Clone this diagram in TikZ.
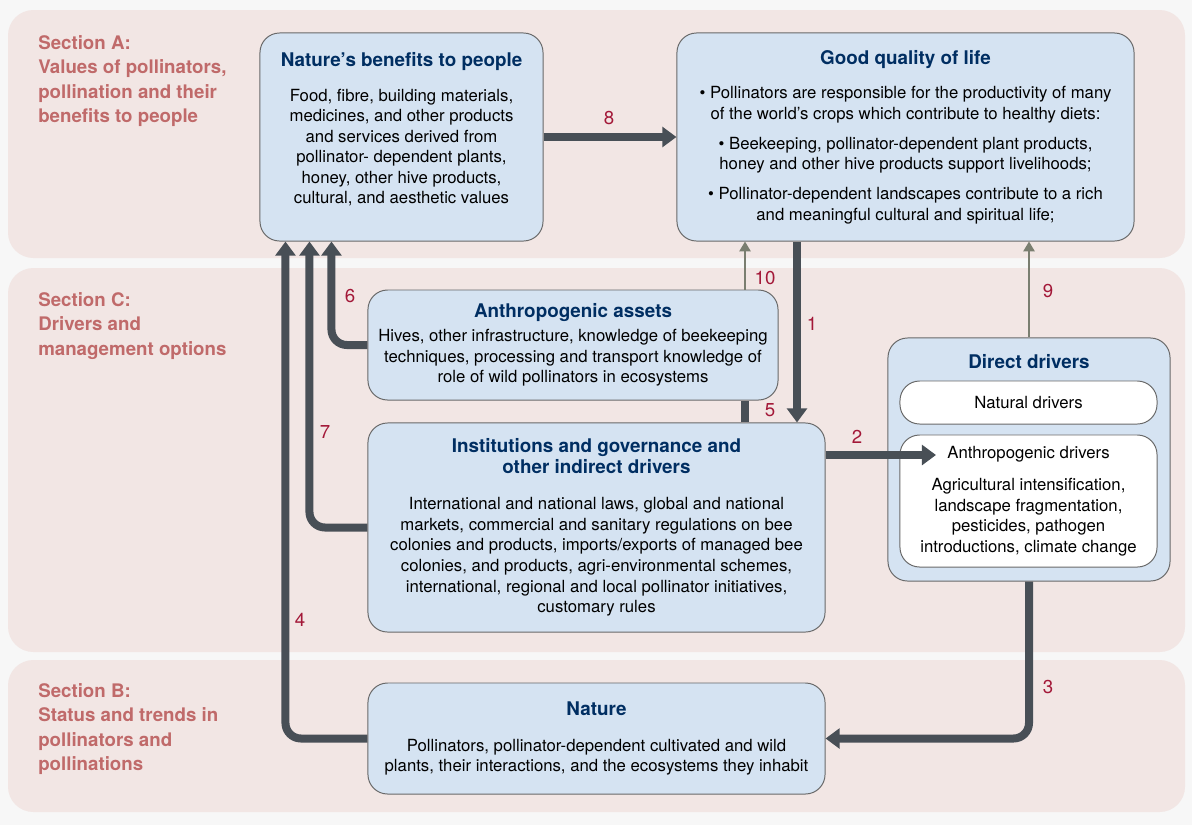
\documentclass[tikz,border=0pt]{standalone}
\usepackage{fontspec}
\setmainfont{TeX Gyre Heros}
\usetikzlibrary{arrows.meta, positioning, calc}
\definecolor{pagegrey}{RGB}{247,247,247}
\definecolor{sectionpink}{RGB}{242,230,228}
\definecolor{sectionred}{RGB}{192,106,106}
\definecolor{boxblue}{RGB}{213,227,242}
\definecolor{boxline}{RGB}{105,105,105}
\definecolor{titlenavy}{RGB}{0,46,98}
\definecolor{pipegrey}{RGB}{72,79,86}
\definecolor{thingrey}{RGB}{122,126,112}
\definecolor{numred}{RGB}{163,24,56}
\newcommand{\boxtitle}[1]{{\bfseries\fontsize{13.4}{15}\selectfont\color{titlenavy}#1}}

\begin{document}
\begin{tikzpicture}[x=0.025cm, y=-0.025cm,
    panel/.style={fill=sectionpink, rounded corners=18pt},
    sectlbl/.style={anchor=north west, align=left, text=sectionred, inner sep=0pt,
                    font=\bfseries\fontsize{13.3}{17.4}\selectfont},
    box/.style={rectangle, draw=boxline, line width=0.7pt, fill=boxblue,
                rounded corners=14pt, align=center, inner sep=0pt,
                font=\fontsize{11.9}{14.6}\selectfont},
    inbox/.style={box, fill=white},
    num/.style={text=numred, font=\fontsize{13.3}{15}\selectfont},
    pipe/.style={draw=pipegrey, line width=5.7pt, rounded corners=11pt,
                 -{Triangle[width=14pt,length=10pt]}},
    stub/.style={draw=pipegrey, line width=5.7pt},
    thin/.style={draw=thingrey, line width=1.3pt,
                 -{Triangle[width=8pt,length=7pt]}}
]
    % page and section panels
    \useasboundingbox[fill=pagegrey] (0,0) rectangle (1192,825);
    \fill[panel] (8,10) rectangle (1185,258);
    \fill[panel] (8,268) rectangle (1185,652);
    \fill[panel] (8,660) rectangle (1185,812);

    \node[sectlbl] (secA) at (38,35) {Section A:\\ Values of pollinators,\\ pollination and their\\ benefits to people};
    \node[sectlbl] (secC) at (38,292) {Section C:\\ Drivers and\\ management options};
    \node[sectlbl] (secB) at (38,683) {Section B:\\ Status and trends in\\ pollinators and\\ pollinations};

    % boxes
    \node[box, minimum width=7.075cm, minimum height=5.2cm] (benefits) at (401.5,137) {
        \boxtitle{Nature’s benefits to people}\\[10pt]
        Food, fibre, building materials,\\
        medicines, and other products\\
        and services derived from\\
        pollinator- dependent plants,\\
        honey, other hive products,\\
        cultural, and aesthetic values\\[-2pt]\mbox{}
    };
    \node[box, minimum width=11.425cm, minimum height=5.2cm] (goodlife) at (905.5,137) {
        \boxtitle{Good quality of life}\\[10pt]
        \textbullet\ Pollinators are responsible for the productivity of many\\
        of the world’s crops which contribute to healthy diets:\\[6.7pt]
        \textbullet\ Beekeeping, pollinator-dependent plant products,\\
        honey and other hive products support livelihoods;\\[6.7pt]
        \textbullet\ Pollinator-dependent landscapes contribute to a rich\\
        and meaningful cultural and spiritual life;
    };
    \node[box, minimum width=10.25cm, minimum height=2.75cm] (assets) at (573,345) {
        \boxtitle{Anthropogenic assets}\\[2.5pt]
        Hives, other infrastructure, knowledge of beekeeping\\
        techniques, processing and transport knowledge of\\
        role of wild pollinators in ecosystems
    };
    \node[box, minimum width=11.425cm, minimum height=5.225cm] (inst) at (596.5,527.5) {
        \boxtitle{Institutions and governance and}\\
        \boxtitle{other indirect drivers}\\[11.4pt]
        International and national laws, global and national\\
        markets, commercial and sanitary regulations on bee\\
        colonies and products, imports/exports of managed bee\\
        colonies, and products, agri-environmental schemes,\\
        international, regional and local pollinator initiatives,\\
        customary rules
    };
    \node[box, minimum width=7.05cm, minimum height=6.075cm] (direct) at (1029,459.5) {};
    \node[font=\bfseries\fontsize{13.4}{15}\selectfont, text=titlenavy] (directtitle) at (1029,362) {Direct drivers};
    \node[inbox, minimum width=6.425cm, minimum height=1.075cm] (natural) at (1028.5,402.5) {Natural drivers};
    \node[inbox, minimum width=6.425cm, minimum height=3.3cm] (anthro) at (1028.5,501) {
        Anthropogenic drivers\\[8.5pt]
        Agricultural intensification,\\
        landscape fragmentation,\\
        pesticides, pathogen\\
        introductions, climate change
    };
    \node[box, minimum width=11.425cm, minimum height=2.775cm] (nature) at (596.5,738.5) {
        \boxtitle{Nature}\\[11pt]
        Pollinators, pollinator-dependent cultivated and wild\\
        plants, their interactions, and the ecosystems they inhabit
    };

    % connectors
    \coordinate (in4) at ($(benefits.south west)+(26,0)$);
    \coordinate (in7) at ($(benefits.south west)+(50,0)$);
    \coordinate (in6) at ($(benefits.south west)+(72,0)$);
    \coordinate (x1) at (797,0);
    \coordinate (x5) at (745,0);
    \coordinate (tip2) at (936,455);

    \draw[pipe] (benefits.east) -- (goodlife.west);
    \draw[pipe] (goodlife.south -| x1) -- (inst.north -| x1);
    \draw[thin] (assets.north -| x5) -- (goodlife.south -| x5);
    \draw[thin] (direct.north) -- (goodlife.south -| direct.north);
    \draw[stub] (inst.north -| x5) -- (assets.south -| x5);
    \draw[pipe] (inst.east |- tip2) -- (tip2);
    \draw[pipe] (direct.south) |- (nature.east);
    \draw[pipe] (nature.west) -| (in4);
    \draw[pipe] (inst.west) -| (in7);
    \draw[pipe] (assets.west) -| (in6);

    % numbers
    \node[num] (n8) at (609,118) {8};
    \node[num] (n1) at (812,324) {1};
    \node[num] (n10) at (765,278) {10};
    \node[num] (n9) at (1048,291) {9};
    \node[num] (n5) at (770,410) {5};
    \node[num] (n2) at (857,437) {2};
    \node[num] (n3) at (1048,687) {3};
    \node[num] (n4) at (300,620) {4};
    \node[num] (n7) at (325,432) {7};
    \node[num] (n6) at (350,296) {6};
\end{tikzpicture}
\end{document}
